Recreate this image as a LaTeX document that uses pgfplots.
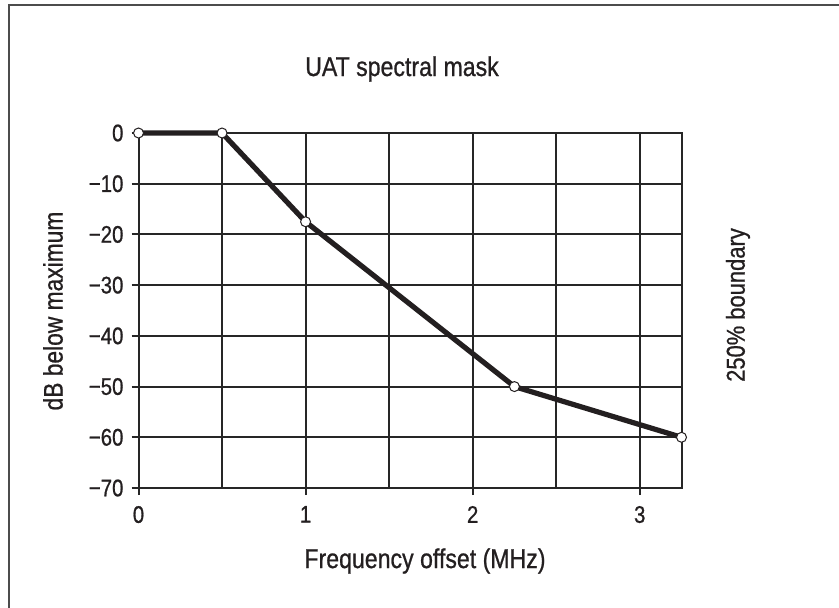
\documentclass[border=0pt]{standalone}
\usepackage{fontspec}
\setmainfont{Liberation Sans}[FakeStretch=0.85, FakeBold=0.8]
\usepackage{pgfplots}
\pgfplotsset{compat=1.18}
\definecolor{ink}{HTML}{231F20}
\begin{document}
\begin{tikzpicture}
\useasboundingbox (0,0) rectangle (419.5pt,303.5pt);
\draw[line width=1pt, black!70] (4.5pt,-20pt) -- (4.5pt,301pt) -- (440pt,301pt);
\begin{axis}[
  at={(69.25pt,59.5pt)}, anchor=south west,
  scale only axis, width=271.5pt, height=177.5pt,
  xmin=0, xmax=3.25, ymin=-70, ymax=0,
  xtick={0,1,2,3}, xticklabels={0,1,2,3},
  extra x ticks={0.5,1.5,2.5}, extra x tick labels={},
  extra x tick style={grid=major, major tick length=0pt},
  ytick={-70,-60,-50,-40,-30,-20,-10,0},
  yticklabels={−70,−60,−50,−40,−30,−20,−10,0},
  grid=major,
  major grid style={line width=1pt, black!85},
  axis line style={line width=1pt, black!85},
  tick style={line width=1pt, black!85},
  tick align=outside, major tick length=3.5pt,
  xtick pos=bottom, ytick pos=left,
  ticklabel style={font=\fontsize{12}{13}\selectfont, text=ink},
  xticklabel style={yshift=-2pt},
  yticklabel style={xshift=-0.5pt},
  /pgf/number format/assume math mode=true,
  clip=false,
]
\addplot[line width=2.6pt, ink, mark=*, mark size=2.5pt,
  mark options={fill=white, draw=ink, line width=0.5pt}]
  coordinates {(0,0) (0.5,0) (1,-17.5) (2.25,-50) (3.25,-60)};
\end{axis}
\node[text=ink, font=\fontsize{13.6}{15}\selectfont] at (201pt,269pt) {UAT spectral mask};
\node[text=ink, font=\fontsize{13.4}{15}\selectfont, rotate=90] at (26.5pt,148pt) {dB below maximum};
\node[text=ink, font=\fontsize{12.9}{15}\selectfont, rotate=90] at (369pt,151pt) {250\% boundary};
\node[text=ink, font=\fontsize{13.6}{15}\selectfont] at (212.5pt,23pt) {Frequency offset (MHz)};
\end{tikzpicture}
\end{document}
